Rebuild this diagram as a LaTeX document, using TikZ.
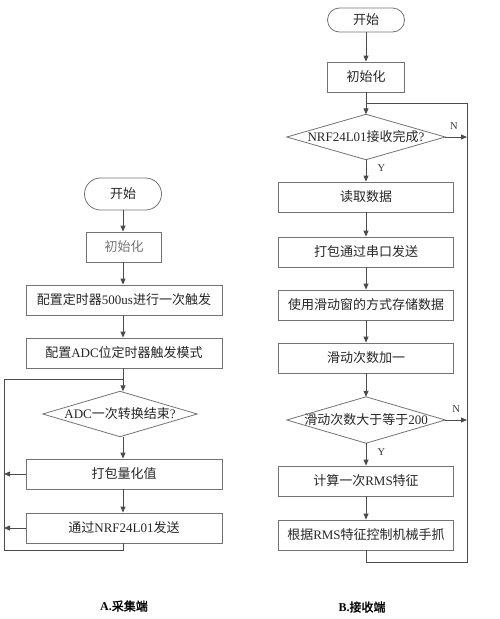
\documentclass[tikz,border=0pt]{standalone}
\usepackage{fontspec}
\setmainfont{Liberation Serif}
\newfontfamily\cjk[AutoFakeBold=1.5]{Noto Sans CJK SC}
\newcommand{\zh}[1]{{\cjk #1}}
\usetikzlibrary{arrows.meta}
\tikzset{
  ln/.style={draw=black!70, line width=0.8pt},
  arr/.style={ln, -{Triangle[length=6pt,width=5pt]}},
  boxnode/.style={draw=black!55, line width=0.8pt, minimum height=30pt, inner sep=0pt, text=black!85,
    font=\fontsize{13}{15}\selectfont},
  widebox/.style={boxnode, minimum width=196pt},
  rbox/.style={boxnode, minimum width=175pt},
  smallbox/.style={boxnode, minimum width=77pt},
  term/.style={boxnode, minimum width=77pt, rounded corners=12pt},
  decision/.style={inner sep=0pt, text=black!85, font=\fontsize{13}{15}\selectfont},
  diamline/.style={draw=black!55, line width=0.8pt},
  lbl/.style={font=\fontsize{10.5}{12}\selectfont, text=black!80},
  captext/.style={font=\bfseries\fontsize{12}{14}\selectfont}
}
\begin{document}
\begin{tikzpicture}[x=1pt,y=-1pt]
\useasboundingbox (0,0) rectangle (500,619);
% ---------- A ----------
\node[term, minimum height=32pt, rounded corners=16pt] (a1) at (123,194) {\zh{开始}};
\node[smallbox, minimum width=75pt, text=black!55] (a2) at (124,247) {\zh{初始化}};
\node[widebox] (a3) at (124,300) {\zh{配置定时器}500us\zh{进行一次触发}};
\node[widebox] (a4) at (124,353) {\zh{配置}ADC\zh{位定时器触发模式}};
\node[decision, minimum width=154pt, minimum height=45pt] (a5) at (120,414) {ADC\zh{一次转换结束}?};
\draw[diamline] (a5.north) -- (a5.east) -- (a5.south) -- (a5.west) -- cycle;
\node[widebox] (a6) at (124,474) {\zh{打包量化值}};
\node[widebox] (a7) at (124,528) {\zh{通过}NRF24L01\zh{发送}};
\coordinate (aj) at (123,379);
\coordinate (ab) at (123,550);
\coordinate (abl) at (4,550);
\coordinate (atl) at (4,379);
\coordinate (a6l) at (4,474);
\coordinate (a7l) at (4,528);
\draw[arr] (a1.south -| aj) -- (a2.north -| aj);
\draw[arr] (a2.south -| aj) -- (a3.north -| aj);
\draw[arr] (a3.south -| aj) -- (a4.north -| aj);
\draw[arr] (a4.south -| aj) -- (a5.north -| aj);
\draw[arr] (a5.south -| aj) -- (a6.north -| aj);
\draw[arr] (a6.south -| aj) -- (a7.north -| aj);
\draw[ln] (a7.south -| aj) -- (ab) -- (abl) -- (atl) -- (aj);
\draw[arr] (a6.west) -- (a6l);
\draw[arr] (a7.west) -- (a7l);
\node[captext] (capA) at (124,606) {A.\zh{采集端}};
% ---------- B ----------
\node[term, minimum height=24pt] (b1) at (366,20) {\zh{开始}};
\node[smallbox] (b2) at (366,77) {\zh{初始化}};
\node[decision, minimum width=158pt, minimum height=45pt] (b3) at (366,137) {NRF24L01\zh{接收完成}?};
\draw[diamline] (b3.north) -- (b3.east) -- (b3.south) -- (b3.west) -- cycle;
\node[rbox] (b4) at (366,197) {\zh{读取数据}};
\node[rbox] (b5) at (366,252) {\zh{打包通过串口发送}};
\node[rbox] (b6) at (366,305) {\zh{使用滑动窗的方式存储数据}};
\node[rbox] (b7) at (366,358) {\zh{滑动次数加一}};
\node[decision, minimum width=158pt, minimum height=46pt] (b8) at (366,420) {\zh{滑动次数大于等于}200};
\draw[diamline] (b8.north) -- (b8.east) -- (b8.south) -- (b8.west) -- cycle;
\node[rbox] (b9) at (366,481) {\zh{计算一次}RMS\zh{特征}};
\node[rbox] (b10) at (366,535) {\zh{根据}RMS\zh{特征控制机械手抓}};
\coordinate (bj) at (366,103);
\coordinate (bb) at (366,562);
\coordinate (bbr) at (467,562);
\coordinate (btr) at (467,103);
\coordinate (b3r) at (467,137);
\coordinate (b8r) at (467,420);
\draw[arr] (b1) -- (b2);
\draw[arr] (b2) -- (b3);
\draw[arr] (b3) -- node[lbl, right=8pt, pos=0.4] (y1) {Y} (b4);
\draw[arr] (b4) -- (b5);
\draw[arr] (b5) -- (b6);
\draw[arr] (b6) -- (b7);
\draw[arr] (b7) -- (b8);
\draw[arr] (b8) -- node[lbl, right=8pt, pos=0.4] (y2) {Y} (b9);
\draw[arr] (b9) -- (b10);
\draw[ln] (b10) -- (bb) -- (bbr) -- (btr) -- (bj);
\draw[arr] (b3.east) -- node[lbl, above=4pt, pos=0.4] (n1) {N} (b3r);
\draw[arr] (b8.east) -- node[lbl, above=4pt, pos=0.5] (n2) {N} (b8r);
\node[captext] (capB) at (362,607) {B.\zh{接收端}};
\end{tikzpicture}
\end{document}
